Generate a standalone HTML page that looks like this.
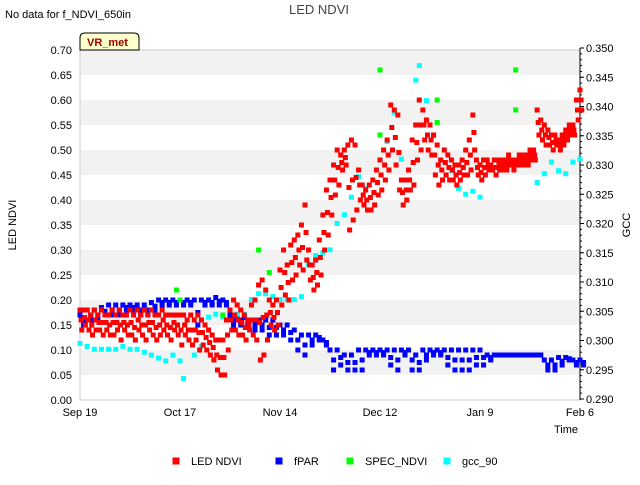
<!DOCTYPE html>
<html><head><meta charset="utf-8"><style>
body{margin:0;background:#fff;font-family:"Liberation Sans",sans-serif;}
svg text{font-family:"Liberation Sans",sans-serif;}
</style></head><body>
<svg id="c" width="640" height="480">
<text x="5" y="18" font-size="11">No data for f_NDVI_650in</text>
<text x="319" y="14" font-size="13" fill="#444" text-anchor="middle">LED NDVI</text>
<g id="bands"></g><g id="axes"></g><g id="marks"></g>
<g>
<path d="M80,50 L80,38 Q80,33 85,33 L134,33 Q139,33 139,38 L139,50 Z" fill="#ffffcc" stroke="#000"/>
<text x="87" y="46" font-size="11" font-weight="bold" fill="#a00000">VR_met</text></g>
<text x="16" y="225" font-size="11" transform="rotate(-90 16 225)" text-anchor="middle">LED NDVI</text>
<text x="630" y="225" font-size="11" transform="rotate(-90 630 225)" text-anchor="middle">GCC</text>
<text x="578" y="433" font-size="11" text-anchor="end">Time</text>
<g id="legend"></g>
</svg>
<script>
const xTickLabels=["Sep 19","Oct 17","Nov 14","Dec 12","Jan 9","Feb 6"];
const yTicks=[0,0.05,0.1,0.15,0.2,0.25,0.3,0.35,0.4,0.45,0.5,0.55,0.6,0.65,0.7];
const y2Ticks=[0.29,0.295,0.3,0.305,0.31,0.315,0.32,0.325,0.33,0.335,0.34,0.345,0.35];
const ndviDays=[0,1,2,3,4,5,6,7,8,9,10,11,12,13,14,15,16,17,18,19,20,21,22,23,24,25,26,27,28,29,30,31,32,33,34,35,36,37,38,39,40,41,42,43,44,45,46,47,48,49,50,51,52,53,54,55,56,57,58,59,60,61,62,63,64,65,66,67,68,69,70,71,72,73,74,75,76,77,78,79,80,81,82,83,84,85,86,87,88,89,90,91,92,93,94,95,96,97,98,99,100,101,102,103,104,105,106,107,108,109,110,111,112,113,114,115,116,117,118,119,120,121,122,123,124,125,126,127,128,129,130,131,132,133,134,135,136,137,138,139,140];
const ndviHi=[0.18,0.18,0.18,0.17,0.18,0.17,0.18,0.17,0.17,0.18,0.17,0.18,0.17,0.17,0.18,0.17,0.18,0.17,0.18,0.17,0.18,0.17,0.17,0.18,0.17,0.17,0.17,0.17,0.17,0.17,0.16,0.17,0.16,0.17,0.16,0.15,0.14,0.13,0.12,0.12,0.12,0.16,0.18,0.2,0.19,0.18,0.17,0.16,0.19,0.2,0.23,0.24,0.22,0.2,0.19,0.2,0.26,0.3,0.27,0.31,0.32,0.33,0.35,0.39,0.3,0.27,0.28,0.32,0.37,0.42,0.44,0.47,0.5,0.49,0.5,0.51,0.52,0.51,0.46,0.43,0.42,0.43,0.44,0.46,0.48,0.5,0.52,0.59,0.58,0.57,0.44,0.44,0.46,0.52,0.55,0.6,0.58,0.56,0.55,0.53,0.51,0.48,0.5,0.49,0.48,0.47,0.47,0.48,0.5,0.52,0.57,0.48,0.47,0.48,0.48,0.47,0.48,0.48,0.48,0.48,0.49,0.48,0.48,0.49,0.49,0.49,0.5,0.5,0.58,0.56,0.55,0.54,0.53,0.53,0.52,0.53,0.54,0.55,0.55,0.6,0.62];
const ndviLo=[0.14,0.15,0.14,0.13,0.14,0.14,0.13,0.14,0.13,0.13,0.14,0.12,0.14,0.13,0.13,0.12,0.14,0.13,0.12,0.14,0.13,0.12,0.13,0.14,0.13,0.12,0.14,0.13,0.11,0.13,0.12,0.11,0.12,0.1,0.11,0.1,0.09,0.08,0.06,0.05,0.05,0.1,0.14,0.14,0.13,0.13,0.12,0.14,0.13,0.12,0.08,0.09,0.12,0.15,0.14,0.15,0.19,0.21,0.2,0.24,0.25,0.27,0.26,0.28,0.24,0.22,0.23,0.25,0.3,0.33,0.37,0.41,0.43,0.46,0.47,0.34,0.36,0.38,0.4,0.39,0.38,0.38,0.39,0.41,0.42,0.44,0.46,0.5,0.47,0.42,0.39,0.4,0.42,0.43,0.48,0.5,0.52,0.5,0.49,0.45,0.43,0.44,0.45,0.44,0.44,0.43,0.44,0.45,0.45,0.46,0.5,0.45,0.44,0.45,0.46,0.46,0.45,0.46,0.46,0.46,0.47,0.46,0.47,0.47,0.47,0.47,0.48,0.48,0.53,0.52,0.51,0.51,0.5,0.51,0.5,0.51,0.52,0.53,0.53,0.56,0.58];
const fparDays=[0,2,4,6,8,10,12,14,16,18,20,22,24,26,28,30,32,34,36,38,40,42,44,46,48,50,52,54,56,58,60,62,64,66,68,70,72,74,76,78,80,82,84,86,88,90,92,94,96,98,100,102,104,106,108,110,112,114,116,118,120,122,124,126,128,130,132,134,136,138,140];
const fparHi=[0.17,0.18,0.18,0.185,0.19,0.19,0.19,0.19,0.19,0.19,0.195,0.2,0.2,0.2,0.2,0.2,0.2,0.2,0.2,0.205,0.2,0.17,0.17,0.165,0.16,0.16,0.16,0.16,0.15,0.15,0.14,0.13,0.13,0.13,0.12,0.1,0.1,0.09,0.09,0.1,0.1,0.1,0.1,0.1,0.1,0.1,0.1,0.09,0.1,0.1,0.1,0.1,0.1,0.1,0.1,0.1,0.1,0.09,0.09,0.09,0.09,0.09,0.09,0.09,0.09,0.08,0.08,0.085,0.085,0.08,0.08];
const fparLo=[0.15,0.16,0.16,0.17,0.17,0.17,0.18,0.18,0.17,0.17,0.18,0.19,0.19,0.19,0.19,0.19,0.15,0.19,0.19,0.19,0.19,0.15,0.15,0.15,0.14,0.14,0.13,0.13,0.13,0.12,0.1,0.09,0.11,0.12,0.11,0.06,0.07,0.06,0.06,0.06,0.09,0.09,0.09,0.07,0.06,0.09,0.06,0.06,0.08,0.09,0.09,0.07,0.06,0.06,0.06,0.07,0.07,0.08,0.09,0.09,0.09,0.09,0.09,0.09,0.09,0.06,0.06,0.07,0.08,0.07,0.07];
const gccDays=[0,2,4,6,8,10,12,14,16,18,20,22,24,26,28,29,32,34,36,38,40,42,44,46,48,50,52,54,56,58,60,62,64,66,68,70,72,74,76,78,80,86,88,90,94,95,97,99,104,106,108,110,112,128,130,132,134,136,138,140];
const gccVals=[0.2995,0.299,0.2985,0.2985,0.2985,0.2985,0.299,0.2985,0.2985,0.298,0.2975,0.297,0.2965,0.2975,0.2965,0.2935,0.2975,0.299,0.304,0.3045,0.304,0.3035,0.3045,0.3045,0.307,0.308,0.308,0.3075,0.307,0.307,0.307,0.3075,0.313,0.3145,0.315,0.3155,0.32,0.3215,0.3245,0.328,0.326,0.334,0.339,0.331,0.3445,0.347,0.341,0.335,0.329,0.326,0.325,0.3255,0.3245,0.327,0.3285,0.3305,0.329,0.3285,0.3305,0.331];
const specDays=[27,28,40,50,53,84,84,100,100,122,122];
const specVals=[0.22,0.2,0.17,0.3,0.255,0.66,0.53,0.6,0.555,0.66,0.58];
const NS="http://www.w3.org/2000/svg";
const X0=80,X1=580,Y0=400,Y1=50;
const xs=d=>X0+d*(100/28);
const ys=v=>Y0-(v/0.7)*(Y0-Y1);
const ys2=v=>399-(v-0.29)/0.06*(399-48);
function mk(tag,attrs,parent){const e=document.createElementNS(NS,tag);for(const k in attrs)e.setAttribute(k,attrs[k]);parent.appendChild(e);return e;}
const bands=document.getElementById('bands'),axes=document.getElementById('axes'),marks=document.getElementById('marks');
for(let i=0;i<7;i++){const top=0.7-i*0.1;
 const r=mk('rect',{x:X0,y:ys(top),width:X1-X0,height:ys(top-0.05)-ys(top),fill:'#f2f2f2'},bands);
 
 }
mk('rect',{x:X0,y:Y1,width:X1-X0,height:Y0-Y1,fill:'none',stroke:'#ccc'},axes);
yTicks.forEach(v=>{const t=mk('text',{x:72,y:ys(v)+4,'font-size':11,'text-anchor':'end'},axes);t.textContent=v.toFixed(2);
 
 });
y2Ticks.forEach(v=>{const t=mk('text',{x:586,y:ys2(v)+4,'font-size':11},axes);t.textContent=v.toFixed(3);
 
 
 mk('line',{x1:X1,x2:X1+4,y1:ys2(v),y2:ys2(v),stroke:'#000'},axes);});
for(let v=0.29;v<=0.3501;v+=0.001)mk('line',{x1:X1,x2:X1+2,y1:ys2(v),y2:ys2(v),stroke:'#000'},axes);
mk('line',{x1:X1,x2:X1,y1:48,y2:400,stroke:'#000'},axes);
xTickLabels.forEach((l,i)=>{const t=mk('text',{x:xs(i*28),y:416,'font-size':11,'text-anchor':'middle'},axes);t.textContent=l;
 
 });
function pt(x,y,c,name){const r=mk('rect',{x:x-2.5,y:y-2.5,width:5,height:5,fill:c},marks);
 
 }
fparDays.forEach((d,i)=>{pt(xs(d),ys(fparHi[i]),'#0000ff','fpar-point');pt(xs(d+1),ys(fparLo[i]),'#0000ff','fpar-point');pt(xs(d+1),ys((fparHi[i]+fparLo[i])/2),'#0000ff','fpar-point');});
gccDays.forEach((d,i)=>pt(xs(d),ys2(gccVals[i]),'#00ffff','gcc-point'));
ndviDays.forEach((d,i)=>{pt(xs(d),ys(ndviHi[i]),'#ff0000','ndvi-point');pt(xs(d+0.5),ys(ndviLo[i]),'#ff0000','ndvi-point');pt(xs(d+0.3),ys((ndviHi[i]+ndviLo[i])/2),'#ff0000','ndvi-point');});
specDays.forEach((d,i)=>pt(xs(d),ys(specVals[i]),'#00ff00','spec-ndvi-point'));
const leg=document.getElementById('legend');
[["LED NDVI","#ff0000",176],["fPAR","#0000ff",279],["SPEC_NDVI","#00ff00",350],["gcc_90","#00ffff",447]].forEach(([n,c,x])=>{
 const g=mk('g',{},leg);
 
 
 mk('rect',{x:x-3.5,y:457.5,width:7,height:7,fill:c},g);
 const t=mk('text',{x:x+15,y:465,'font-size':11},g);t.textContent=n;});
</script>
</body></html>
